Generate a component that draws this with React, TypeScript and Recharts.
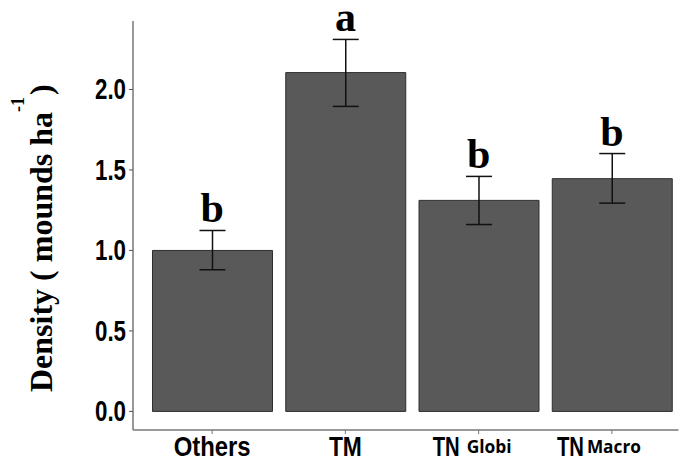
import React from "react";
import {
  ComposedChart,
  Bar,
  Line,
  ErrorBar,
  LabelList,
  XAxis,
  YAxis,
  Label,
} from "recharts";

const categories = ["Others", "TM", "TN", "TN"];
const subscripts = ["", "", "Globi", "Macro"];
const density = [1.0, 2.105, 1.311, 1.446];
const errLow = [0.12, 0.21, 0.15, 0.152];
const errHigh = [0.124, 0.206, 0.149, 0.156];
const letters = ["b", "a", "b", "b"];
const yTicks = [0, 0.5, 1, 1.5, 2];

const sans = "'Liberation Sans', Arial, sans-serif";
const serif = "'Liberation Serif', 'Times New Roman', serif";

// squeezed widths so plain Arial-style bold looks like the narrow face in the original
const mainWidth: Record<string, number> = { Others: 77, TM: 33, TN: 27 };
const subLayout: Record<string, { start: number; gap: number; width: number }> = {
  Globi: { start: -46, gap: 7, width: 45 },
  Macro: { start: -55, gap: 3, width: 54 },
};

const data = categories.map((c, i) => ({
  key: `${c}${subscripts[i]}`,
  name: c,
  sub: subscripts[i],
  density: density[i],
  err: [errLow[i], errHigh[i]],
  top: density[i] + errHigh[i],
  letter: letters[i],
}));

function XTick(props: any) {
  const { x, y, index } = props;
  const d = data[index];
  if (!d) return null;
  const base = y + 20;
  if (!d.sub) {
    return (
      <text
        x={x}
        y={base}
        textAnchor="middle"
        fontFamily={sans}
        fontWeight="bold"
        fontSize={28}
        fill="#000"
        textLength={mainWidth[d.name]}
        lengthAdjust="spacingAndGlyphs"
      >
        {d.name}
      </text>
    );
  }
  const l = subLayout[d.sub];
  const tnW = mainWidth[d.name];
  return (
    <g>
      <text
        x={x + l.start}
        y={base}
        fontFamily={sans}
        fontWeight="bold"
        fontSize={28}
        fill="#000"
        textLength={tnW}
        lengthAdjust="spacingAndGlyphs"
      >
        {d.name}
      </text>
      <text
        x={x + l.start + tnW + l.gap}
        y={base - 3}
        fontFamily="'Open Sans', sans-serif"
        fontWeight="bold"
        fontSize={18}
        fill="#000"
        textLength={l.width}
        lengthAdjust="spacingAndGlyphs"
      >
        {d.sub}
      </text>
    </g>
  );
}

function YTick(props: any) {
  const { x, y, payload } = props;
  return (
    <text
      x={x}
      y={y}
      dy={10}
      textAnchor="end"
      fontFamily={sans}
      fontWeight="bold"
      fontSize={29}
      fill="#000"
      textLength={31}
      lengthAdjust="spacingAndGlyphs"
    >
      {Number(payload.value).toFixed(1)}
    </text>
  );
}

function YTitle() {
  return (
    <text
      transform="translate(52,392) rotate(-90)"
      x={0}
      y={0}
      fontFamily={serif}
      fontWeight="bold"
      fontSize={32}
      fill="#000"
    >
      <tspan>Density ( mounds ha</tspan>
      <tspan fontSize={18} dy={-28}>-1</tspan>
      <tspan dy={28} dx={-6}> )</tspan>
    </text>
  );
}

export default function App() {
  return (
    <div style={{ position: "absolute", left: 0, top: 0, background: "#fff" }}>
      <ComposedChart
        width={680}
        height={462}
        data={data}
        margin={{ top: 21, right: 1.5, bottom: 0, left: 0 }}
      >
        <XAxis
          dataKey="key"
          height={32}
          padding={{ left: 12.5, right: 0 }}
          axisLine={{ stroke: "#777", strokeWidth: 1.5 }}
          tickLine={{ stroke: "#777" }}
          tickSize={4}
          tickMargin={2}
          tick={<XTick />}
          interval={0}
        />
        <YAxis
          width={133}
          domain={[-0.1155, 2.4255]}
          allowDataOverflow
          ticks={yTicks}
          axisLine={{ stroke: "#777", strokeWidth: 1.5 }}
          tickLine={{ stroke: "#555" }}
          tickSize={4}
          tickMargin={3}
          tick={<YTick />}
        >
          <Label content={<YTitle />} />
        </YAxis>
        <Bar
          dataKey="density"
          barSize={120}
          fill="#595959"
          stroke="#2e2e2e"
          strokeWidth={1}
          isAnimationActive={false}
        >
          <ErrorBar dataKey="err" width={13} stroke="#111" strokeWidth={1.5} direction="y" />
        </Bar>
        <Line
          dataKey="top"
          stroke="none"
          dot={false}
          activeDot={false}
          legendType="none"
          isAnimationActive={false}
        >
          <LabelList
            dataKey="letter"
            position="top"
            offset={8}
            fill="#000"
            fontFamily={serif}
            fontWeight="bold"
            fontSize={42}
          />
        </Line>
      </ComposedChart>
    </div>
  );
}
